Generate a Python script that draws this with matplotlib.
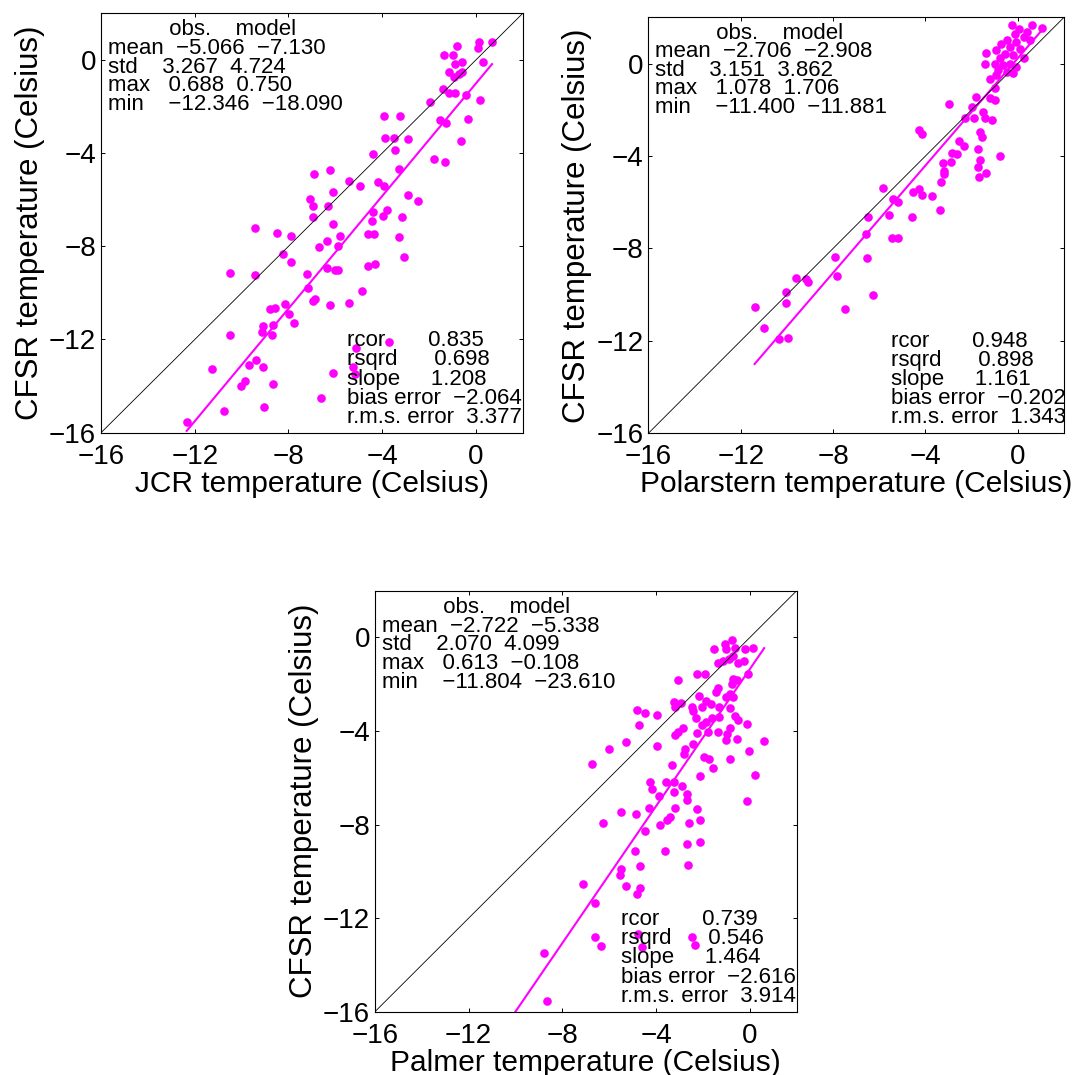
import numpy as np
import matplotlib.pyplot as plt

plt.rcParams['font.family'] = ['Liberation Sans', 'DejaVu Sans']

# ---- JCR (top left) ----
jcr_obs = [-0.79, -1.38, -0.96, 0.14, 0.07, 0.69, -0.90, -0.61, 0.32, -1.15,
           -0.93, -0.71, -0.61, -1.40, -1.15, -0.90, -0.42, 0.17, -1.96, -3.91,
           -3.25, -1.55, -1.27, -0.32, -3.88, -3.48, -2.89, -3.47, -0.64, -4.39,
           -1.77, -1.32, -3.29, -6.93, -6.21, -5.43, -4.94, -4.20, -3.91, -6.09,
           -2.92, -2.48, -7.08, -6.94, -6.31, -4.41, -3.81, -6.97, -6.09, -4.44,
           -3.98, -3.17, -9.43, -8.47, -7.91, -5.82, -6.35, -4.62, -4.35, -3.29,
           -6.71, -5.90, -8.25, -3.07, -7.91, -6.35, -6.01, -5.87, -4.59, -4.32,
           -10.50, -9.42, -7.19, -7.15, -4.87, -6.97, -6.88, -6.21, -5.43, -8.15,
           -8.59, -8.80, -7.97, -7.77, -9.09, -8.67, -9.15, -8.71, -10.48, -3.73,
           -5.12, -5.24, -5.16, -11.27, -9.67, -9.40, -9.09, -9.87, -10.04, -8.64,
           -6.12, -6.60, -10.76, -9.06, -12.35]
jcr_model = [0.60, 0.21, 0.21, 0.79, 0.50, 0.75, -0.17, -0.09, -0.11, -0.50,
             -0.74, -0.60, -0.50, -1.26, -1.40, -1.40, -1.50, -1.74, -1.79, -2.40,
             -2.39, -2.57, -2.69, -2.53, -3.33, -3.33, -3.40, -3.86, -3.47, -4.04,
             -4.26, -4.37, -4.69, -4.90, -4.74, -5.19, -5.40, -5.26, -5.40, -5.69,
             -5.79, -6.04, -5.97, -6.29, -6.29, -6.53, -6.43, -6.76, -7.04, -6.93,
             -6.69, -6.74, -7.20, -7.44, -7.57, -7.54, -7.77, -7.49, -7.47, -7.61,
             -8.04, -8.00, -8.31, -8.46, -8.69, -8.94, -9.03, -9.03, -8.86, -8.76,
             -9.14, -9.24, -9.21, -9.77, -9.93, -10.36, -10.26, -10.54, -10.43, -10.47,
             -10.66, -10.71, -10.90, -11.31, -11.40, -11.37, -11.67, -11.79, -11.80, -12.11,
             -12.36, -13.17, -13.50, -13.26, -13.10, -12.86, -13.19, -13.79, -14.00, -13.89,
             -13.43, -14.50, -15.07, -14.89, -15.53]
jcr_obs_stats = [-5.066, 3.267, 0.688, -12.346]
jcr_model_stats = [-7.130, 4.724, 0.750, -18.090]
jcr_fit_stats = [0.835, 0.698, 1.208, -2.064, 3.377]

# ---- Polarstern (top right) ----
pol_obs = [-0.27, 0.07, 0.62, 1.06, 0.40, -0.12, 0.25, -0.49, -0.06, 0.54,
           -0.71, -0.35, 0.09, -0.93, -1.37, -0.56, -0.19, -0.78, 0.25, -1.44,
           -1.00, -0.64, -0.35, -0.08, -0.87, -0.49, -0.20, -1.22, -0.93, -1.00,
           -1.81, -1.22, -1.00, -2.99, -1.99, -1.52, -2.28, -1.88, -1.44, -1.10,
           -4.27, -4.17, -1.66, -1.56, -2.55, -2.33, -1.74, -2.87, -2.62, -0.78,
           -1.66, -3.24, -2.91, -1.74, -3.21, -1.37, -3.21, -1.69, -3.31, -5.86,
           -4.56, -4.27, -4.14, -3.70, -5.42, -5.20, -3.36, -5.56, -6.49, -4.58,
           -6.57, -5.46, -5.20, -6.55, -7.90, -7.85, -9.61, -9.17, -9.07, -6.26,
           -10.05, -10.02, -11.40, -7.48, -11.01, -10.35, -9.94]
pol_model = [1.65, 1.51, 1.65, 1.55, 1.37, 1.29, 1.15, 1.01, 0.94, 1.01,
             0.86, 0.72, 0.65, 0.58, 0.46, 0.43, 0.36, 0.22, 0.22, -0.03,
             0.00, -0.07, 0.00, -0.14, -0.29, -0.36, -0.43, -0.65, -0.50, -1.04,
             -1.44, -1.51, -1.58, -1.73, -1.87, -2.09, -2.37, -2.37, -2.37, -2.45,
             -2.88, -3.05, -2.95, -3.17, -3.34, -3.57, -3.71, -3.86, -3.91, -4.00,
             -4.17, -4.29, -4.24, -4.46, -4.63, -4.72, -4.78, -4.89, -5.11, -5.40,
             -5.57, -5.42, -5.68, -5.73, -5.87, -5.97, -6.33, -6.55, -6.66, -6.65,
             -7.38, -7.57, -7.57, -8.43, -8.36, -9.18, -9.28, -9.32, -9.47, -10.01,
             -9.87, -10.36, -10.53, -10.62, -11.44, -11.90, -11.87]
pol_obs_stats = [-2.706, 3.151, 1.078, -11.400]
pol_model_stats = [-2.908, 3.862, 1.706, -11.881]
pol_fit_stats = [0.948, 0.898, 1.161, -0.202, 1.343]

# ---- Palmer (bottom) ----
pal_obs = [-0.78, -1.08, -0.64, -1.00, -1.52, -0.22, 0.15, -0.71, -0.24, -1.37,
           -1.15, -0.49, -0.90, -2.26, -1.92, -0.09, -3.07, -0.71, -0.54, -0.78,
           -1.37, -1.45, -2.19, -0.86, -1.03, -0.71, -1.86, -3.25, -2.93, -1.67,
           -3.19, -2.45, -2.04, -1.30, -0.86, -4.82, -4.48, -3.96, -2.41, -2.31,
           -1.60, -1.30, -0.64, -0.49, -1.86, -2.04, -4.74, -0.12, -0.86, -2.85,
           -3.07, -3.19, -2.26, -1.77, -1.34, -0.98, -1.00, -0.56, 0.61, -5.29,
           -2.41, -3.96, -6.03, -2.78, -0.05, -2.81, -1.97, -1.75, -0.86, -6.74,
           -3.32, -1.57, -2.14, 0.22, -4.28, -3.59, -3.22, -4.18, -3.22, -2.88,
           -3.89, -2.70, -2.70, -0.12, -5.51, -4.85, -4.30, -3.19, -2.26, -6.28,
           -3.84, -3.54, -3.40, -2.60, -2.11, -4.48, -2.67, -2.11, -4.89, -3.63,
           -4.67, -2.63, -5.48, -5.55, -7.11, -5.29, -4.67, -4.82, -6.62, -4.77,
           -6.59, -6.37, -4.62, -2.48, -2.36, -8.79, -8.64]
pal_model = [-0.11, -0.28, -0.43, -0.50, -0.50, -0.50, -0.43, -0.78, -1.00, -1.07,
             -1.00, -1.07, -0.93, -1.54, -1.57, -1.57, -1.82, -1.78, -1.82, -1.99,
             -2.14, -2.35, -2.49, -2.42, -2.56, -2.54, -2.71, -2.74, -2.78, -2.85,
             -2.96, -2.99, -2.96, -2.96, -3.02, -3.11, -3.25, -3.32, -3.16, -3.45,
             -3.45, -3.39, -3.35, -3.53, -3.63, -3.73, -3.73, -3.68, -3.85, -3.88,
             -4.06, -4.16, -4.10, -4.06, -4.06, -4.13, -4.39, -4.35, -4.42, -4.49,
             -4.56, -4.66, -4.77, -4.77, -4.87, -4.99, -5.13, -5.20, -5.20, -5.39,
             -5.44, -5.58, -5.91, -5.87, -6.20, -6.20, -6.17, -6.48, -6.60, -6.37,
             -6.77, -6.70, -6.95, -6.98, -7.48, -7.55, -7.27, -7.29, -7.34, -7.95,
             -8.01, -7.81, -7.69, -7.95, -7.81, -8.26, -8.83, -8.76, -9.15, -9.15,
             -9.79, -9.73, -9.90, -10.14, -10.54, -10.61, -10.73, -10.97, -11.37, -12.68,
             -12.79, -13.18, -13.25, -12.79, -13.15, -13.51, -15.56]
pal_obs_stats = [-2.722, 2.070, 0.613, -11.804]
pal_model_stats = [-5.338, 4.099, -0.108, -23.610]
pal_fit_stats = [0.739, 0.546, 1.464, -2.616, 3.914]

stat_names = ['mean', 'std', 'max', 'min']
stat_gaps = [2, 4, 3, 4]
fit_names = ['rcor', 'rsqrd', 'slope', 'bias error', 'r.m.s. error']
fit_gaps = [7, 6, 5, 2, 2]

MAG = (1, 0, 1)


def fmt(v):
    return ('%.3f' % v).replace('-', '\u2212')


def draw_panel(ax, xs, ys, obs_st, mod_st, fit_st, xlabel):
    ax.set_xlim(-16, 2)
    ax.set_ylim(-16, 2)
    ax.plot(xs, ys, 'o', color=MAG, ms=6.2, mew=0, zorder=2)
    # regression line through the means, over the observed range
    xf = np.array([obs_st[3], obs_st[2]])
    yf = mod_st[0] + fit_st[2] * (xf - obs_st[0])
    ax.plot(xf, yf, color=MAG, lw=1.5, zorder=2.5)
    ax.plot([-16, 2], [-16, 2], color='black', lw=0.6, zorder=2.6)

    # stats tables, one text block each (anchored on the last line's baseline)
    ts = 16
    lines = [' ' * 10 + 'obs.' + ' ' * 4 + 'model']
    for k, name in enumerate(stat_names):
        lines.append(name + ' ' * stat_gaps[k] + fmt(obs_st[k]) + '  ' + fmt(mod_st[k]))
    ax.text(-15.72, -2.14, '\n'.join(lines), fontsize=ts, va='baseline',
            linespacing=0.85)
    lines = [name + ' ' * fit_gaps[k] + fmt(fit_st[k]) for k, name in enumerate(fit_names)]
    ax.text(-5.5, -15.57, '\n'.join(lines), fontsize=ts, va='baseline',
            linespacing=0.88)

    ax.set_xticks([-16, -12, -8, -4, 0])
    ax.set_yticks([-16, -12, -8, -4, 0])
    ax.tick_params(direction='in', length=3, width=0.7, top=True, right=True,
                   labelsize=20)
    ax.tick_params(axis='x', pad=8)
    ax.tick_params(axis='y', pad=3.5)
    for s in ax.spines.values():
        s.set_linewidth(0.8)
    ax.set_xlabel(xlabel, fontsize=21.5, labelpad=0)
    ax.set_ylabel('CFSR temperature (Celsius)', fontsize=22.5, labelpad=3)


fig = plt.figure(figsize=(10.75, 10.75), dpi=100)
ax1 = fig.add_axes([0.0940, 0.5975, 0.3923, 0.3901])
ax2 = fig.add_axes([0.6031, 0.5969, 0.3867, 0.3870])
ax3 = fig.add_axes([0.3488, 0.0589, 0.3923, 0.3916])

draw_panel(ax1, jcr_obs, jcr_model, jcr_obs_stats, jcr_model_stats, jcr_fit_stats,
           'JCR temperature (Celsius)')
draw_panel(ax2, pol_obs, pol_model, pol_obs_stats, pol_model_stats, pol_fit_stats,
           'Polarstern temperature (Celsius)')
draw_panel(ax3, pal_obs, pal_model, pal_obs_stats, pal_model_stats, pal_fit_stats,
           'Palmer temperature (Celsius)')

fig.savefig('out.png', dpi=100)
